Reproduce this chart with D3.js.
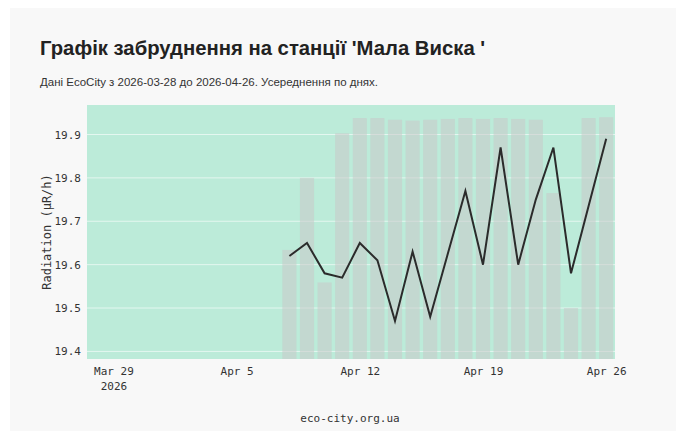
<!DOCTYPE html>
<html>
<head>
<meta charset="utf-8">
<script src="https://cdn.jsdelivr.net/npm/d3@7"></script>
<style>
  body { margin: 0; background: #ffffff; }
  svg { display: block; }
</style>
</head>
<body>
<div id="chart"></div>
<script>
// daily averages, station 'Мала Виска'
var days = ["2026-04-08", "2026-04-09", "2026-04-10", "2026-04-11", "2026-04-12", "2026-04-13",
  "2026-04-14", "2026-04-15", "2026-04-16", "2026-04-17", "2026-04-18", "2026-04-19", "2026-04-20",
  "2026-04-21", "2026-04-22", "2026-04-23", "2026-04-24", "2026-04-25", "2026-04-26"];
var radiation = [19.62, 19.65, 19.58, 19.57, 19.65, 19.61, 19.47, 19.63, 19.48, 19.625,
  19.77, 19.60, 19.87, 19.60, 19.75, 19.87, 19.58, 19.735, 19.89];
var barValues = [19.634, 19.80, 19.559, 19.903, 19.938, 19.938, 19.934, 19.932, 19.934, 19.936,
  19.938, 19.936, 19.938, 19.936, 19.934, 19.765, 19.50, 19.938, 19.94];
var tickDays = ["2026-03-29", "2026-04-05", "2026-04-12", "2026-04-19", "2026-04-26"];
var yTicks = [19.4, 19.5, 19.6, 19.7, 19.8, 19.9];
var periodStart = "2026-03-28", periodEnd = "2026-04-26";

var svgWidth = 683;
var svgHeight = 437;
var margin = { top: 105, right: 68, bottom: 78, left: 87 };
var width = svgWidth - margin.left - margin.right;
var height = svgHeight - margin.top - margin.bottom;

var parse = d3.utcParse("%Y-%m-%d");
var dayMs = 864e5;

var data = days.map(function(d, i) {
  return { date: parse(d), value: radiation[i], bar: barValues[i] };
});

var svg = d3.select("#chart").append("svg")
  .attr("width", svgWidth)
  .attr("height", svgHeight);

// card background
svg.append("rect")
  .attr("x", 10).attr("y", 8)
  .attr("width", 666).attr("height", 423)
  .attr("fill", "#f8f8f8");

svg.append("text")
  .attr("x", 40).attr("y", 55)
  .attr("font-family", "Liberation Sans, Arial, sans-serif")
  .attr("font-weight", "bold")
  .attr("font-size", "20.3px")
  .attr("fill", "#222")
  .text("Графік забруднення на станції 'Мала Виска '");

svg.append("text")
  .attr("x", 40).attr("y", 86)
  .attr("font-family", "Liberation Sans Narrow, Arial Narrow, Liberation Sans, sans-serif")
  .attr("font-size", "11.5px")
  .attr("fill", "#333")
  .text("Дані EcoCity з " + periodStart + " до " + periodEnd + ". Усереднення по днях.");

var chartGroup = svg.append("g")
  .attr("transform", `translate(${margin.left}, ${margin.top})`);

var xScale = d3.scaleUtc()
  .domain([new Date(parse(periodStart).getTime() - dayMs / 2), new Date(parse(periodEnd).getTime() + dayMs / 2)])
  .range([0, width]);

var yScale = d3.scaleLinear()
  .domain([19.3825, 19.968])
  .range([height, 0]);

chartGroup.append("rect")
  .attr("width", width).attr("height", height)
  .attr("fill", "#bcebd9");

chartGroup.append("clipPath").attr("id", "plotclip")
  .append("rect").attr("width", width).attr("height", height);

// grid
chartGroup.selectAll(".grid")
  .data(yTicks)
  .enter()
  .append("line")
  .attr("x1", 0).attr("x2", width)
  .attr("y1", d => yScale(d)).attr("y2", d => yScale(d))
  .attr("stroke", "#ffffff")
  .attr("stroke-opacity", 0.6)
  .attr("stroke-width", 1);

// bars
var barW = 0.8 * (xScale(parse("2026-04-02")) - xScale(parse("2026-04-01")));
chartGroup.append("g").attr("clip-path", "url(#plotclip)")
  .selectAll("rect")
  .data(data)
  .enter()
  .append("rect")
  .attr("x", d => xScale(d.date) - barW / 2)
  .attr("width", barW)
  .attr("y", d => yScale(d.bar))
  .attr("height", d => height - yScale(d.bar))
  .attr("fill", "rgb(200,200,200)")
  .attr("fill-opacity", 0.55);

// line
var line = d3.line()
  .x(d => xScale(d.date))
  .y(d => yScale(d.value));

chartGroup.append("path")
  .datum(data)
  .attr("d", line)
  .attr("fill", "none")
  .attr("stroke", "#2b2b2b")
  .attr("stroke-width", 2);

// axes
var mono = "DejaVu Sans Mono, monospace";
var xAxis = d3.axisBottom(xScale)
  .tickValues(tickDays.map(parse))
  .tickFormat(d3.utcFormat("%b %-d"))
  .tickSize(0)
  .tickPadding(8);

var xg = chartGroup.append("g")
  .attr("transform", `translate(0, ${height})`)
  .call(xAxis);
xg.select(".domain").remove();
xg.selectAll("text")
  .attr("font-family", mono)
  .attr("font-size", "11px")
  .attr("fill", "#333");
xg.select(".tick text")
  .append("tspan")
  .attr("x", 0).attr("dy", "1.35em")
  .text("2026");

var yg = chartGroup.append("g")
  .call(d3.axisLeft(yScale).tickValues(yTicks).tickFormat(d3.format(".1f")).tickSize(0).tickPadding(6));
yg.select(".domain").remove();
yg.selectAll("text")
  .attr("font-family", mono)
  .attr("font-size", "11px")
  .attr("fill", "#333");

chartGroup.append("text")
  .attr("transform", "rotate(-90)")
  .attr("x", -height / 2)
  .attr("y", -36)
  .attr("text-anchor", "middle")
  .attr("font-family", mono)
  .attr("font-size", "12px")
  .attr("fill", "#333")
  .text("Radiation (µR/h)");

svg.append("text")
  .attr("x", 350).attr("y", 422)
  .attr("text-anchor", "middle")
  .attr("font-family", mono)
  .attr("font-size", "11px")
  .attr("fill", "#333")
  .text("eco-city.org.ua");
</script>
</body>
</html>
